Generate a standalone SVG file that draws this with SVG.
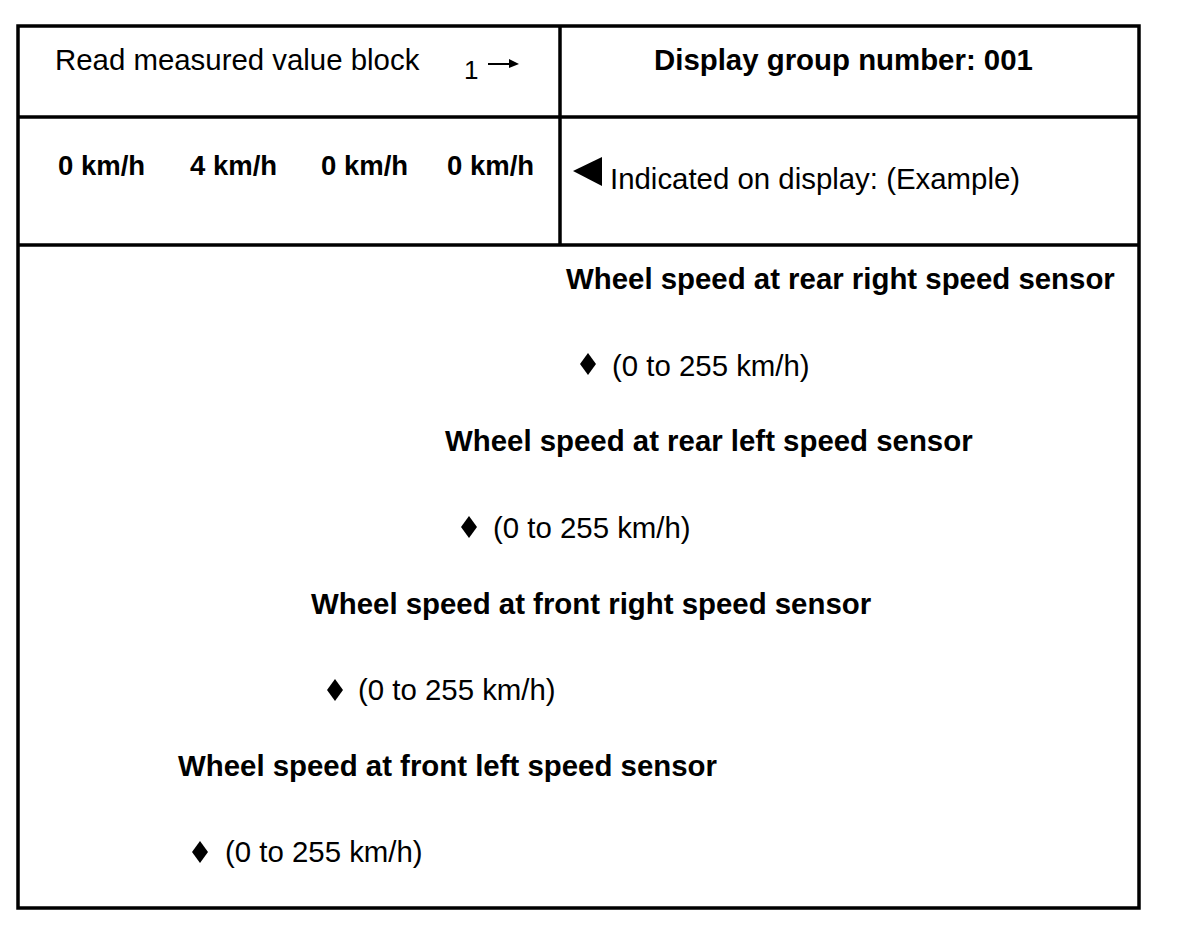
<svg xmlns="http://www.w3.org/2000/svg" width="1184" height="932" viewBox="0 0 1184 932">
<style>
.t{font-family:"Liberation Sans",Arial,sans-serif;font-size:29.4px;fill:#000}
.b{font-weight:bold}
.ln{stroke:#000;stroke-width:3.5;fill:none}
</style>
<defs>
<polygon id="dia" points="0,-11 8,0 0,11 -8,0" fill="#000"/>
</defs>
<rect width="1184" height="932" fill="#fff"/>
<g id="frame">
<rect class="ln" x="18" y="26" width="1121" height="882"/>
<line class="ln" x1="18" y1="117" x2="1139" y2="117"/>
<line class="ln" x1="18" y1="245" x2="1139" y2="245"/>
<line class="ln" x1="560" y1="26" x2="560" y2="245"/>
</g>
<g id="header-left">
<text class="t" x="55" y="70">Read measured value block</text>
<text class="t" x="464" y="79" style="font-size:26px">1</text>
<line x1="488" y1="64" x2="512" y2="64" stroke="#000" stroke-width="2"/>
<polygon points="509,59 519,64 509,68" fill="#000"/>
</g>
<g id="header-right">
<text class="t b" x="654" y="70">Display group number: 001</text>
</g>
<g id="values">
<text class="t b" x="58" y="175" style="font-size:27.5px">0 km/h</text>
<text class="t b" x="190" y="175" style="font-size:27.5px">4 km/h</text>
<text class="t b" x="321" y="175" style="font-size:27.5px">0 km/h</text>
<text class="t b" x="447" y="175" style="font-size:27.5px">0 km/h</text>
</g>
<g id="indicated">
<polygon points="573,171 602,157 602,186" fill="#000"/>
<text class="t" x="610" y="189">Indicated on display: (Example)</text>
</g>
<g id="rear-right">
<text class="t b" x="566" y="289">Wheel speed at rear right speed sensor</text>
<use href="#dia" x="588" y="364"/>
<text class="t" x="612" y="376">(0 to 255 km/h)</text>
</g>
<g id="rear-left">
<text class="t b" x="445" y="451">Wheel speed at rear left speed sensor</text>
<use href="#dia" x="469" y="527"/>
<text class="t" x="493" y="538">(0 to 255 km/h)</text>
</g>
<g id="front-right">
<text class="t b" x="311" y="614">Wheel speed at front right speed sensor</text>
<use href="#dia" x="335" y="690"/>
<text class="t" x="358" y="700">(0 to 255 km/h)</text>
</g>
<g id="front-left">
<text class="t b" x="178" y="776">Wheel speed at front left speed sensor</text>
<use href="#dia" x="200" y="852"/>
<text class="t" x="225" y="862">(0 to 255 km/h)</text>
</g>
</svg>
